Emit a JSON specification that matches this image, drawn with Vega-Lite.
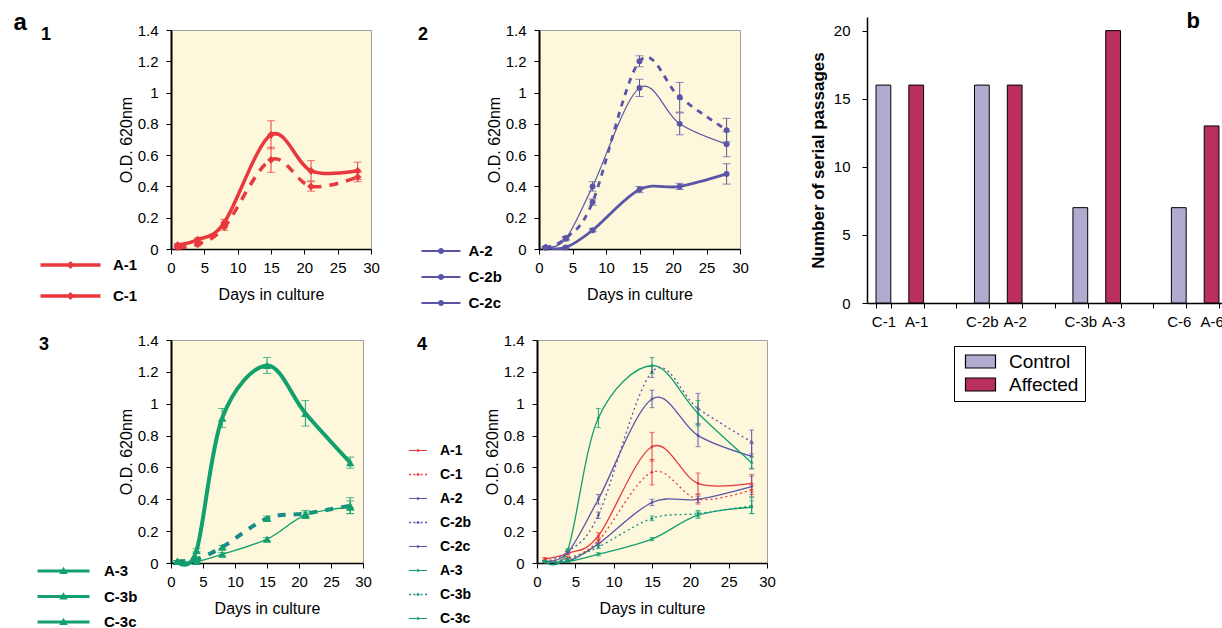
{
"$schema": "https://vega.github.io/schema/vega-lite/v6.json",
"background": "white",
"padding": {"left": 13, "top": 10, "right": 0, "bottom": 0},
"datasets": {
"growth": [
{"s":"A-1","day":1,"od":0.025,"err":0.01},{"s":"A-1","day":4,"od":0.06,"err":0.01},{"s":"A-1","day":8,"od":0.17,"err":0.02},{"s":"A-1","day":15,"od":0.73,"err":0.09},{"s":"A-1","day":21,"od":0.50,"err":0.065},{"s":"A-1","day":28,"od":0.50,"err":0.055},
{"s":"C-1","day":1,"od":0.01,"err":0.01},{"s":"C-1","day":4,"od":0.03,"err":0.01},{"s":"C-1","day":8,"od":0.14,"err":0.02},{"s":"C-1","day":15,"od":0.57,"err":0.08},{"s":"C-1","day":21,"od":0.40,"err":0.03},{"s":"C-1","day":28,"od":0.46,"err":0.03},
{"s":"A-2","day":1,"od":0.01,"err":0.005},{"s":"A-2","day":4,"od":0.01,"err":0.005},{"s":"A-2","day":8,"od":0.12,"err":0.01},{"s":"A-2","day":15,"od":0.38,"err":0.02},{"s":"A-2","day":21,"od":0.40,"err":0.02},{"s":"A-2","day":28,"od":0.48,"err":0.065},
{"s":"C-2b","day":1,"od":0.01,"err":0.005},{"s":"C-2b","day":4,"od":0.07,"err":0.01},{"s":"C-2b","day":8,"od":0.30,"err":0.02},{"s":"C-2b","day":15,"od":1.20,"err":0.035},{"s":"C-2b","day":21,"od":0.97,"err":0.095},{"s":"C-2b","day":28,"od":0.76,"err":0.075},
{"s":"C-2c","day":1,"od":0.01,"err":0.005},{"s":"C-2c","day":4,"od":0.065,"err":0.01},{"s":"C-2c","day":8,"od":0.40,"err":0.03},{"s":"C-2c","day":15,"od":1.03,"err":0.055},{"s":"C-2c","day":21,"od":0.80,"err":0.07},{"s":"C-2c","day":28,"od":0.67,"err":0.08},
{"s":"A-3","day":1,"od":0.01,"err":0.005},{"s":"A-3","day":4,"od":0.08,"err":0.01},{"s":"A-3","day":8,"od":0.91,"err":0.06},{"s":"A-3","day":15,"od":1.24,"err":0.05},{"s":"A-3","day":21,"od":0.94,"err":0.08},{"s":"A-3","day":28,"od":0.63,"err":0.035},
{"s":"C-3b","day":1,"od":0.01,"err":0.005},{"s":"C-3b","day":4,"od":0.025,"err":0.01},{"s":"C-3b","day":8,"od":0.10,"err":0.01},{"s":"C-3b","day":15,"od":0.28,"err":0.015},{"s":"C-3b","day":21,"od":0.31,"err":0.02},{"s":"C-3b","day":28,"od":0.36,"err":0.05},
{"s":"C-3c","day":1,"od":0.01,"err":0.005},{"s":"C-3c","day":4,"od":0.01,"err":0.005},{"s":"C-3c","day":8,"od":0.055,"err":0.01},{"s":"C-3c","day":15,"od":0.15,"err":0.01},{"s":"C-3c","day":21,"od":0.30,"err":0.02},{"s":"C-3c","day":28,"od":0.35,"err":0.04}
],
"passages": [
{"cell":"C-1","group":"Control","n":16},{"cell":"A-1","group":"Affected","n":16},
{"cell":"C-2b","group":"Control","n":16},{"cell":"A-2","group":"Affected","n":16},
{"cell":"C-3b","group":"Control","n":7},{"cell":"A-3","group":"Affected","n":20},
{"cell":"C-6","group":"Control","n":7},{"cell":"A-6","group":"Affected","n":13}
]
},
"resolve": {"scale": {"fill": "independent", "stroke": "independent"}, "legend": {"fill": "independent", "stroke": "independent"}},
"hconcat": [
{
"title": {"text": "a", "fontSize": 24, "dx": -25, "dy": 22},
"spacing": 4,
"resolve": {"scale": {"fill": "independent", "stroke": "independent"}, "legend": {"fill": "independent", "stroke": "independent"}},
"vconcat": [
{"width": 1, "height": 1, "data": {"values": []}, "mark": {"type": "point", "opacity": 0}, "view": {"fill": null, "stroke": null}},
{
"spacing": 29,
"resolve": {"scale": {"fill": "independent", "stroke": "independent"}, "legend": {"fill": "independent", "stroke": "independent"}},
"vconcat": [
{"spacing": 37,
"resolve": {"scale": {"fill": "independent", "stroke": "independent"}, "legend": {"fill": "independent", "stroke": "independent"}},
"hconcat": [
{
"width": 200, "height": 219,
"data": {"name": "growth"},
"transform": [{"filter": {"field": "s", "oneOf": ["A-1","C-1"]}}],
"title": {"text": "1", "frame": "group", "dx": -130, "dy": 25, "fontSize": 18},
"encoding": {
"x": {"field": "day", "type": "quantitative", "scale": {"domain": [0,30], "nice": false}, "axis": {"title": "Days in culture", "values": [0,5,10,15,20,25,30], "labelPadding": 6, "titlePadding": 11}},
"y": {"field": "od", "type": "quantitative", "scale": {"domain": [0,1.4], "nice": false}, "axis": {"title": "O.D. 620nm", "values": [0,0.2,0.4,0.6,0.8,1,1.2,1.4], "format": "~g", "labelPadding": 8, "titlePadding": 3}}
},
"layer": [
{"transform": [{"filter": {"field": "s", "equal": "A-1"}}], "mark": {"type": "line", "interpolate": "cardinal", "strokeWidth": 3.5, "color": "#e8383d"}},
{"transform": [{"filter": {"field": "s", "equal": "C-1"}}], "mark": {"type": "line", "interpolate": "cardinal", "strokeWidth": 3.5, "color": "#e8383d", "strokeDash": [9,8]}},
{"mark": {"type": "errorbar", "ticks": true, "size": 8, "thickness": 1, "color": "#e8383d"}, "encoding": {"yError": {"field": "err"}}},
{"mark": {"type": "point", "filled": true, "shape": "diamond", "size": 60, "opacity": 1, "color": "#e8383d"}},
{"mark": {"type": "point", "filled": true, "clip": true, "opacity": 1, "color": "#e8383d"},
 "encoding": {
  "y": {"datum": 10},
  "strokeDash": {"field": "s", "type": "nominal", "scale": {"domain": ["A-1","C-1"], "range": [[1,0],[9,15]]},
    "legend": {"title": null, "orient": "none", "legendX": -108, "legendY": 240.5, "symbolSize": 100, "labelOffset": 35, "rowPadding": 15, "labelFontSize": 15,
      "symbolType": "M-6,-0.35H6V0.35H-6Z M0,-0.8L0.8,0L0,0.8L-0.8,0Z"}}}}
]
},
{
"width": 201, "height": 219,
"data": {"name": "growth"},
"transform": [{"filter": {"field": "s", "oneOf": ["A-2","C-2b","C-2c"]}}],
"title": {"text": "2", "frame": "group", "dx": -121, "dy": 25, "fontSize": 18},
"encoding": {
"x": {"field": "day", "type": "quantitative", "scale": {"domain": [0,30], "nice": false}, "axis": {"title": "Days in culture", "values": [0,5,10,15,20,25,30], "labelPadding": 6, "titlePadding": 11}},
"y": {"field": "od", "type": "quantitative", "scale": {"domain": [0,1.4], "nice": false}, "axis": {"title": "O.D. 620nm", "values": [0,0.2,0.4,0.6,0.8,1,1.2,1.4], "format": "~g", "labelPadding": 8, "titlePadding": 3}}
},
"layer": [
{"transform": [{"filter": {"field": "s", "equal": "A-2"}}], "mark": {"type": "line", "interpolate": "cardinal", "strokeWidth": 2.8, "color": "#5a55a6"}},
{"transform": [{"filter": {"field": "s", "equal": "C-2b"}}], "mark": {"type": "line", "interpolate": "cardinal", "strokeWidth": 2.8, "color": "#5a55a6", "strokeDash": [6,6]}},
{"transform": [{"filter": {"field": "s", "equal": "C-2c"}}], "mark": {"type": "line", "interpolate": "cardinal", "strokeWidth": 1.2, "color": "#5a55a6"}},
{"mark": {"type": "errorbar", "ticks": true, "size": 8, "thickness": 1, "color": "#5a55a6"}, "encoding": {"yError": {"field": "err"}}},
{"mark": {"type": "point", "filled": true, "shape": "circle", "size": 35, "opacity": 1, "color": "#5a55a6"}},
{"mark": {"type": "point", "filled": true, "clip": true, "opacity": 1, "color": "#5a55a6"},
 "encoding": {
  "y": {"datum": 10},
  "opacity": {"field": "s", "type": "nominal", "scale": {"domain": ["A-2","C-2b","C-2c"], "range": [1,1]},
    "legend": {"title": null, "orient": "none", "legendX": 262.5, "legendY": 226.5, "symbolSize": 100, "labelOffset": 20, "rowPadding": 10, "labelFontSize": 15,
      "symbolType": "M-3.9,-0.22H3.9V0.22H-3.9Z M-0.6,0A0.6,0.6 0 1,1 0.6,0A0.6,0.6 0 1,1 -0.6,0Z"}}}}
]
}
]},
{"spacing": 44,
"resolve": {"scale": {"fill": "independent", "stroke": "independent"}, "legend": {"fill": "independent", "stroke": "independent"}},
"hconcat": [
{
"width": 192, "height": 223,
"data": {"name": "growth"},
"transform": [{"filter": {"field": "s", "oneOf": ["A-3","C-3b","C-3c"]}}],
"title": {"text": "3", "frame": "group", "dx": -132, "dy": 25, "fontSize": 18},
"encoding": {
"x": {"field": "day", "type": "quantitative", "scale": {"domain": [0,30], "nice": false}, "axis": {"title": "Days in culture", "values": [0,5,10,15,20,25,30], "labelPadding": 6, "titlePadding": 11}},
"y": {"field": "od", "type": "quantitative", "scale": {"domain": [0,1.4], "nice": false}, "axis": {"title": "O.D. 620nm", "values": [0,0.2,0.4,0.6,0.8,1,1.2,1.4], "format": "~g", "labelPadding": 8, "titlePadding": 3}}
},
"layer": [
{"transform": [{"filter": {"field": "s", "equal": "A-3"}}], "mark": {"type": "line", "interpolate": "cardinal", "strokeWidth": 4, "color": "#12a06c"}},
{"transform": [{"filter": {"field": "s", "equal": "C-3b"}}], "mark": {"type": "line", "interpolate": "cardinal", "strokeWidth": 4, "color": "#178c86", "strokeDash": [8,8]}},
{"transform": [{"filter": {"field": "s", "equal": "C-3c"}}], "mark": {"type": "line", "interpolate": "cardinal", "strokeWidth": 1.3, "color": "#12a06c"}},
{"mark": {"type": "errorbar", "ticks": true, "size": 8, "thickness": 1, "color": "#12a06c"}, "encoding": {"yError": {"field": "err"}}},
{"mark": {"type": "point", "filled": true, "shape": "triangle-up", "size": 70, "opacity": 1, "color": "#12a06c"}},
{"mark": {"type": "point", "filled": true, "clip": true, "opacity": 1, "color": "#12a06c"},
 "encoding": {
  "y": {"datum": 10},
  "size": {"field": "s", "type": "nominal", "scale": {"domain": ["A-3","C-3b","C-3c"], "range": [100,100]},
    "legend": {"title": null, "orient": "none", "legendX": -115, "legendY": 546.5, "symbolSize": 100, "labelOffset": 33, "rowPadding": 9.5, "labelFontSize": 15,
      "symbolType": "M-5.2,-0.3H5.2V0.3H-5.2Z M0,-0.85L0.85,0.6H-0.85Z"}}}}
]
},
{
"width": 230, "height": 223,
"data": {"name": "growth"},
"title": {"text": "4", "frame": "group", "dx": -120, "dy": 25, "fontSize": 18},
"encoding": {
"x": {"field": "day", "type": "quantitative", "scale": {"domain": [0,30], "nice": false}, "axis": {"title": "Days in culture", "values": [0,5,10,15,20,25,30], "labelPadding": 6, "titlePadding": 11}},
"y": {"field": "od", "type": "quantitative", "scale": {"domain": [0,1.4], "nice": false}, "axis": {"title": "O.D. 620nm", "values": [0,0.2,0.4,0.6,0.8,1,1.2,1.4], "format": "~g", "labelPadding": 8, "titlePadding": 3}}
},
"layer": [
{"transform": [{"filter": {"field": "s", "oneOf": ["A-1","A-2","C-2c","A-3","C-3c"]}}],
 "mark": {"type": "line", "interpolate": "cardinal", "strokeWidth": 1.3},
 "encoding": {"stroke": {"field": "s", "type": "nominal", "scale": {"domain": ["A-1","C-1","A-2","C-2b","C-2c","A-3","C-3b","C-3c"], "range": ["#e8383d","#e8383d","#5a55a6","#5a55a6","#5a55a6","#12a06c","#178c86","#12a06c"]}, "legend": null}}},
{"transform": [{"filter": {"field": "s", "oneOf": ["C-1","C-2b","C-3b"]}}],
 "mark": {"type": "line", "interpolate": "cardinal", "strokeWidth": 1.3, "strokeDash": [2,3]},
 "encoding": {"stroke": {"field": "s", "type": "nominal", "legend": null}}},
{"transform": [{"filter": {"field": "s", "oneOf": ["A-1","C-1"]}}], "mark": {"type": "errorbar", "ticks": true, "size": 5, "thickness": 1, "color": "#e8383d"}, "encoding": {"yError": {"field": "err"}}},
{"transform": [{"filter": {"field": "s", "oneOf": ["A-2","C-2b","C-2c"]}}], "mark": {"type": "errorbar", "ticks": true, "size": 5, "thickness": 1, "color": "#5a55a6"}, "encoding": {"yError": {"field": "err"}}},
{"transform": [{"filter": {"field": "s", "oneOf": ["A-3","C-3b","C-3c"]}}], "mark": {"type": "errorbar", "ticks": true, "size": 5, "thickness": 1, "color": "#12a06c"}, "encoding": {"yError": {"field": "err"}}},
{"transform": [{"filter": {"field": "s", "oneOf": ["A-1","C-1"]}}], "mark": {"type": "point", "filled": true, "shape": "diamond", "size": 12, "opacity": 1, "color": "#e8383d"}},
{"transform": [{"filter": {"field": "s", "oneOf": ["A-2","C-2b","C-2c"]}}], "mark": {"type": "point", "filled": true, "shape": "diamond", "size": 12, "opacity": 1, "color": "#5a55a6"}},
{"transform": [{"filter": {"field": "s", "oneOf": ["A-3","C-3b","C-3c"]}}], "mark": {"type": "point", "filled": true, "shape": "diamond", "size": 12, "opacity": 1, "color": "#12a06c"}},
{"mark": {"type": "point", "filled": true, "clip": true, "opacity": 1},
 "encoding": {
  "y": {"datum": 10},
  "color": {"field": "s", "type": "nominal", "scale": {"domain": ["A-1","C-1","A-2","C-2b","C-2c","A-3","C-3b","C-3c"], "range": ["#e8383d","#e8383d","#5a55a6","#5a55a6","#5a55a6","#12a06c","#178c86","#12a06c"]},
    "legend": {"title": null, "orient": "none", "legendX": 240, "legendY": 426.5, "symbolSize": 100, "labelOffset": 15, "rowPadding": 10, "labelFontSize": 14}},
  "shape": {"field": "s", "type": "nominal", "scale": {"domain": ["A-1","C-1","A-2","C-2b","C-2c","A-3","C-3b","C-3c"], "range": [
   "M-1.8,-0.12H1.8V0.12H-1.8Z M0,-0.35L0.35,0L0,0.35L-0.35,0Z",
   "M-1.8,-0.14H-1.4V0.14H-1.8Z M-0.9,-0.14H-0.5V0.14H-0.9Z M0.5,-0.14H0.9V0.14H0.5Z M1.4,-0.14H1.8V0.14H1.4Z M0,-0.35L0.35,0L0,0.35L-0.35,0Z",
   "M-1.8,-0.12H1.8V0.12H-1.8Z M0,-0.35L0.35,0L0,0.35L-0.35,0Z",
   "M-1.8,-0.14H-1.4V0.14H-1.8Z M-0.9,-0.14H-0.5V0.14H-0.9Z M0.5,-0.14H0.9V0.14H0.5Z M1.4,-0.14H1.8V0.14H1.4Z M0,-0.35L0.35,0L0,0.35L-0.35,0Z",
   "M-1.8,-0.12H1.8V0.12H-1.8Z M0,-0.35L0.35,0L0,0.35L-0.35,0Z",
   "M-1.8,-0.12H1.8V0.12H-1.8Z M0,-0.35L0.35,0L0,0.35L-0.35,0Z",
   "M-1.8,-0.14H-1.4V0.14H-1.8Z M-0.9,-0.14H-0.5V0.14H-0.9Z M0.5,-0.14H0.9V0.14H0.5Z M1.4,-0.14H1.8V0.14H1.4Z M0,-0.35L0.35,0L0,0.35L-0.35,0Z",
   "M-1.8,-0.12H1.8V0.12H-1.8Z M0,-0.35L0.35,0L0,0.35L-0.35,0Z"]},
    "legend": {"title": null, "orient": "none", "legendX": 240, "legendY": 426.5, "symbolSize": 100, "labelOffset": 15, "rowPadding": 10, "labelFontSize": 14}}}}
]
}
]}
]
}
]
},
{
"width": 361, "height": 286,
"view": {"fill": null, "stroke": null},
"data": {"name": "passages"},
"title": {"text": "b", "anchor": "end", "frame": "group", "dx": -28, "dy": 20, "fontSize": 22},
"mark": {"type": "bar", "stroke": "black", "strokeWidth": 1},
"encoding": {
"x": {"field": "cell", "type": "nominal", "sort": null,
  "scale": {"domain": ["C-1","A-1","gap1","C-2b","A-2","gap2","C-3b","A-3","gap3","C-6","A-6"], "paddingInner": 0.55, "paddingOuter": 0.275},
  "axis": {"title": null, "labelAngle": 0, "tickBand": "extent", "labelExpr": "indexof(datum.label, 'gap') === 0 ? '' : datum.label", "labelFontSize": 15, "domainWidth": 1.5, "labelPadding": 6}},
"y": {"field": "n", "type": "quantitative", "scale": {"domain": [0,21], "nice": false},
  "axis": {"values": [0,5,10,15,20], "title": "Number of serial passages", "titleFontWeight": "bold", "titleFontSize": 17, "domainWidth": 1.5, "labelPadding": 12, "titlePadding": 6}},
"fill": {"field": "group", "type": "nominal", "scale": {"domain": ["Control","Affected"], "range": ["#b3aacf","#b9305f"]},
  "legend": {"title": null, "orient": "none", "legendX": 87, "legendY": 329, "strokeColor": "black", "padding": 6, "symbolOffset": 11,
    "symbolType": "M-1.875,-0.8125H1.875V0.8125H-1.875Z", "symbolSize": 256, "symbolStrokeColor": "black", "symbolStrokeWidth": 1.2,
    "labelOffset": 19, "rowPadding": 3, "labelFontSize": 19, "labelFontWeight": "normal"}}
}
}
],
"spacing": 33,
"config": {
"font": "Liberation Sans",
"view": {"fill": "#fdf8dc", "stroke": "#a0a0a0", "strokeWidth": 1},
"axis": {"grid": false, "domainColor": "#000", "domainWidth": 1.5, "tickColor": "#000", "tickWidth": 1, "tickSize": 5, "labelColor": "#000", "labelFontSize": 15, "labelFont": "Liberation Sans", "titleFont": "Liberation Sans", "titleFontSize": 16, "titleFontWeight": "normal", "titleColor": "#000", "labelFlush": false, "labelOverlap": false},
"axisY": {"domainWidth": 2},
"legend": {"labelFont": "Liberation Sans", "labelColor": "#000", "labelFontWeight": "bold", "padding": 0, "symbolStrokeWidth": 0},
"title": {"font": "Liberation Sans", "fontWeight": "bold", "color": "#000", "anchor": "start"}
}
}
